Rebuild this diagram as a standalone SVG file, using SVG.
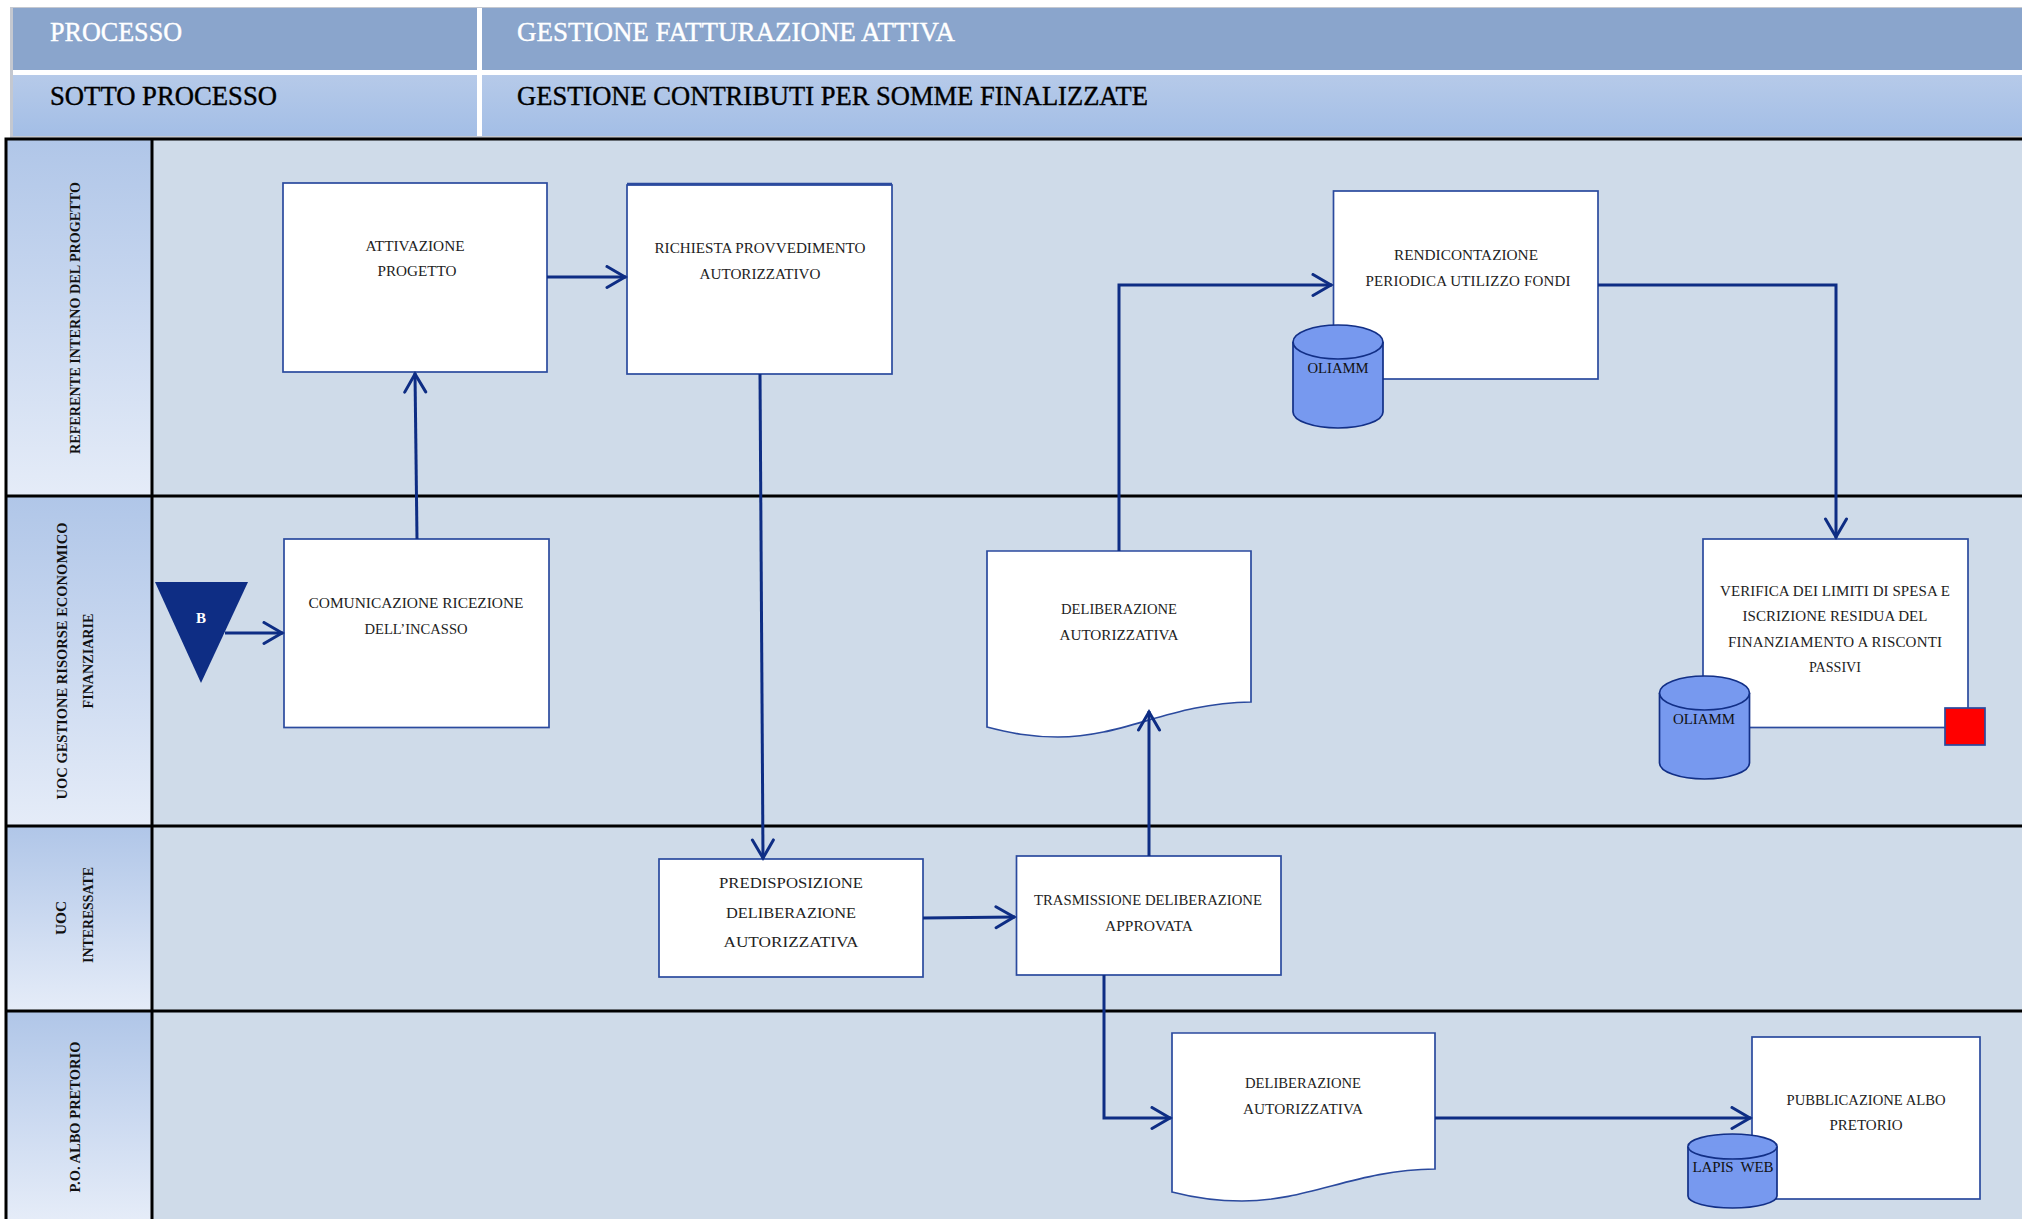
<svg xmlns="http://www.w3.org/2000/svg" width="2022" height="1219" viewBox="0 0 2022 1219">
<style>
text{font-family:"Liberation Serif","Times New Roman",serif;fill:#222;text-anchor:middle}
.t{font-size:15px}
.h{font-size:27px;text-anchor:start;fill:#000;stroke:#000;stroke-width:.4px}
.hw{font-size:27px;text-anchor:start;fill:#fff;stroke:#fff;stroke-width:.4px}
.l{font-size:15px;font-weight:bold;fill:#111}
.box{fill:#fff;stroke:#2b4a9e;stroke-width:1.700}
.cyl{fill:#7799ef;stroke:#122f86;stroke-width:1.700}
.c{fill:none;stroke:#0e2d84;stroke-width:3;marker-end:url(#a)}
.b{fill:none;stroke:#000;stroke-width:3}
</style>
<defs>
<marker id="a" markerUnits="userSpaceOnUse" markerWidth="24" markerHeight="26" refX="21" refY="12" orient="auto">
<path d="M2,1.500L20,12L2,22.500" fill="none" stroke="#0e2d84" stroke-width="3" stroke-linecap="round"/>
</marker>
<linearGradient id="g1" x1="0" y1="0" x2="0" y2="1"><stop offset="0" stop-color="#b6cae9"/><stop offset="1" stop-color="#a3bee6"/></linearGradient>
<linearGradient id="g2" x1="0" y1="0" x2="0" y2="1"><stop offset="0" stop-color="#b0c6e8"/><stop offset="1" stop-color="#e5ecf8"/></linearGradient>
</defs>
<rect width="2022" height="1219" fill="#fff"/>
<g id="header">
<rect x="10" y="7" width="2012" height="131" fill="#c4c8d0"/>
<rect x="13" y="8" width="2009" height="62" fill="#8aa5cc"/>
<rect x="13" y="75" width="2009" height="61" fill="url(#g1)"/>
<rect x="13" y="70" width="2009" height="5" fill="#fff"/>
<rect x="477" y="8" width="5" height="128" fill="#fff"/>
<text class="hw" x="50" y="41" textLength="132" lengthAdjust="spacingAndGlyphs">PROCESSO</text>
<text class="hw" x="517" y="41" textLength="438" lengthAdjust="spacingAndGlyphs">GESTIONE FATTURAZIONE ATTIVA</text>
<text class="h" x="50" y="105" textLength="227" lengthAdjust="spacingAndGlyphs">SOTTO PROCESSO</text>
<text class="h" x="517" y="105" textLength="631" lengthAdjust="spacingAndGlyphs">GESTIONE CONTRIBUTI PER SOMME FINALIZZATE</text>
</g>
<g id="lanes">
<rect x="6" y="139" width="2016" height="1080" fill="#cfdbe9"/>
<rect x="6" y="139" width="146" height="357" fill="url(#g2)"/>
<rect x="6" y="496" width="146" height="330" fill="url(#g2)"/>
<rect x="6" y="826" width="146" height="185" fill="url(#g2)"/>
<rect x="6" y="1011" width="146" height="208" fill="url(#g2)"/>
<path class="b" d="M2022,139H6V1219M152,139V1219M6,496H2022M6,826H2022M6,1011H2022"/>
<text class="l" transform="translate(80,318) rotate(-90)" textLength="272" lengthAdjust="spacingAndGlyphs">REFERENTE INTERNO DEL PROGETTO</text>
<text class="l" transform="translate(67,661) rotate(-90)" textLength="277" lengthAdjust="spacingAndGlyphs">UOC GESTIONE RISORSE ECONOMICO</text>
<text class="l" transform="translate(93,661) rotate(-90)" textLength="95" lengthAdjust="spacingAndGlyphs">FINANZIARIE</text>
<text class="l" transform="translate(66,918) rotate(-90)" textLength="34" lengthAdjust="spacingAndGlyphs">UOC</text>
<text class="l" transform="translate(93,915) rotate(-90)" textLength="96" lengthAdjust="spacingAndGlyphs">INTERESSATE</text>
<text class="l" transform="translate(80,1117) rotate(-90)" textLength="151" lengthAdjust="spacingAndGlyphs">P.O. ALBO PRETORIO</text>
</g>
<g id="n-attivazione">
<rect class="box" x="283" y="183" width="264" height="189"/>
<text class="t" x="415" y="251" textLength="99" lengthAdjust="spacingAndGlyphs">ATTIVAZIONE</text>
<text class="t" x="417" y="276" textLength="79" lengthAdjust="spacingAndGlyphs">PROGETTO</text>
</g>
<g id="n-richiesta">
<rect class="box" x="627" y="185" width="265" height="189"/>
<path d="M627,184H892" stroke="#2b4a9e" stroke-width="2.500"/>
<text class="t" x="760" y="253" textLength="211" lengthAdjust="spacingAndGlyphs">RICHIESTA PROVVEDIMENTO</text>
<text class="t" x="760" y="279" textLength="121" lengthAdjust="spacingAndGlyphs">AUTORIZZATIVO</text>
</g>
<g id="n-rendicontazione">
<rect class="box" x="1333.500" y="191" width="264.500" height="188"/>
<text class="t" x="1466" y="260" textLength="144" lengthAdjust="spacingAndGlyphs">RENDICONTAZIONE</text>
<text class="t" x="1468" y="286" textLength="205" lengthAdjust="spacing">PERIODICA UTILIZZO FONDI</text>
</g>
<g id="n-oliamm1">
<path class="cyl" d="M1293,342A45,17 0 0 1 1383,342V412A45,16 0 0 1 1293,412Z"/>
<path class="cyl" d="M1293,342A45,17 0 0 0 1383,342"/>
<text class="t" x="1338" y="373" textLength="61" lengthAdjust="spacingAndGlyphs" style="fill:#111">OLIAMM</text>
</g>
<g id="n-comunicazione">
<rect class="box" x="284" y="539" width="265" height="188.500"/>
<text class="t" x="416" y="608" textLength="215" lengthAdjust="spacingAndGlyphs">COMUNICAZIONE RICEZIONE</text>
<text class="t" x="416" y="634" textLength="103" lengthAdjust="spacingAndGlyphs">DELL’INCASSO</text>
</g>
<g id="n-b">
<path d="M155,582H248L201,683Z" fill="#0e2d84"/>
<text x="201" y="623" font-size="15" font-weight="bold" style="fill:#fff">B</text>
</g>
<g id="n-delib1">
<path class="box" d="M987,551H1251V702C1170,703 1125,737 1058,737C1030,737 1010,733 987,727Z"/>
<text class="t" x="1119" y="614" textLength="116" lengthAdjust="spacingAndGlyphs">DELIBERAZIONE</text>
<text class="t" x="1119" y="640" textLength="119" lengthAdjust="spacingAndGlyphs">AUTORIZZATIVA</text>
</g>
<g id="n-verifica">
<rect class="box" x="1703" y="539" width="265" height="188.500"/>
<text class="t" x="1835" y="596" textLength="230" lengthAdjust="spacing">VERIFICA DEI LIMITI DI SPESA E</text>
<text class="t" x="1835" y="621" textLength="185" lengthAdjust="spacing">ISCRIZIONE RESIDUA DEL</text>
<text class="t" x="1835" y="647" textLength="214" lengthAdjust="spacing">FINANZIAMENTO A RISCONTI</text>
<text class="t" x="1835" y="672" textLength="52" lengthAdjust="spacingAndGlyphs">PASSIVI</text>
</g>
<g id="n-oliamm2">
<path class="cyl" d="M1659.500,693A45,17 0 0 1 1749.500,693V763A45,16 0 0 1 1659.500,763Z"/>
<path class="cyl" d="M1659.500,693A45,17 0 0 0 1749.500,693"/>
<text class="t" x="1704" y="724" textLength="62" lengthAdjust="spacingAndGlyphs" style="fill:#111">OLIAMM</text>
</g>
<g id="n-end">
<rect x="1945" y="708" width="40" height="37" fill="#f00" stroke="#2b4a9e" stroke-width="1.700"/>
</g>
<g id="n-predisposizione">
<rect class="box" x="659" y="859" width="264" height="118"/>
<text class="t" x="791" y="888" textLength="144" lengthAdjust="spacingAndGlyphs">PREDISPOSIZIONE</text>
<text class="t" x="791" y="918" textLength="130" lengthAdjust="spacingAndGlyphs">DELIBERAZIONE</text>
<text class="t" x="791" y="947" textLength="135" lengthAdjust="spacingAndGlyphs">AUTORIZZATIVA</text>
</g>
<g id="n-trasmissione">
<rect class="box" x="1016.500" y="856" width="264.500" height="119"/>
<text class="t" x="1148" y="905" textLength="228" lengthAdjust="spacingAndGlyphs">TRASMISSIONE DELIBERAZIONE</text>
<text class="t" x="1149" y="931" textLength="88" lengthAdjust="spacingAndGlyphs">APPROVATA</text>
</g>
<g id="n-delib2">
<path class="box" d="M1172,1033H1435V1169C1355,1170 1310,1201 1242,1201C1215,1201 1195,1198 1172,1192Z"/>
<text class="t" x="1303" y="1088" textLength="116" lengthAdjust="spacingAndGlyphs">DELIBERAZIONE</text>
<text class="t" x="1303" y="1114" textLength="120" lengthAdjust="spacingAndGlyphs">AUTORIZZATIVA</text>
</g>
<g id="n-pubblicazione">
<rect class="box" x="1752" y="1037" width="228" height="162"/>
<text class="t" x="1866" y="1105" textLength="159" lengthAdjust="spacingAndGlyphs">PUBBLICAZIONE ALBO</text>
<text class="t" x="1866" y="1130" textLength="73" lengthAdjust="spacingAndGlyphs">PRETORIO</text>
</g>
<g id="n-lapis">
<path class="cyl" d="M1688,1146.500A44.500,12.500 0 0 1 1777,1146.500V1196A44.500,12 0 0 1 1688,1196Z"/>
<path class="cyl" d="M1688,1146.500A44.500,12.500 0 0 0 1777,1146.500"/>
<text class="t" x="1733" y="1172" textLength="81" lengthAdjust="spacing" style="fill:#111;white-space:pre">LAPIS  WEB</text>
</g>
<g id="connectors">
<path class="c" d="M225,633H283"/>
<path class="c" d="M417,539L415,373"/>
<path class="c" d="M547,277H626"/>
<path class="c" d="M760,374L763,859"/>
<path class="c" d="M923,918L1015,917"/>
<path class="c" d="M1149,856V711"/>
<path class="c" d="M1119,551V285H1332"/>
<path class="c" d="M1598,285H1836V538"/>
<path class="c" d="M1104,975V1118H1171"/>
<path class="c" d="M1435,1118H1751"/>
</g>
</svg>
